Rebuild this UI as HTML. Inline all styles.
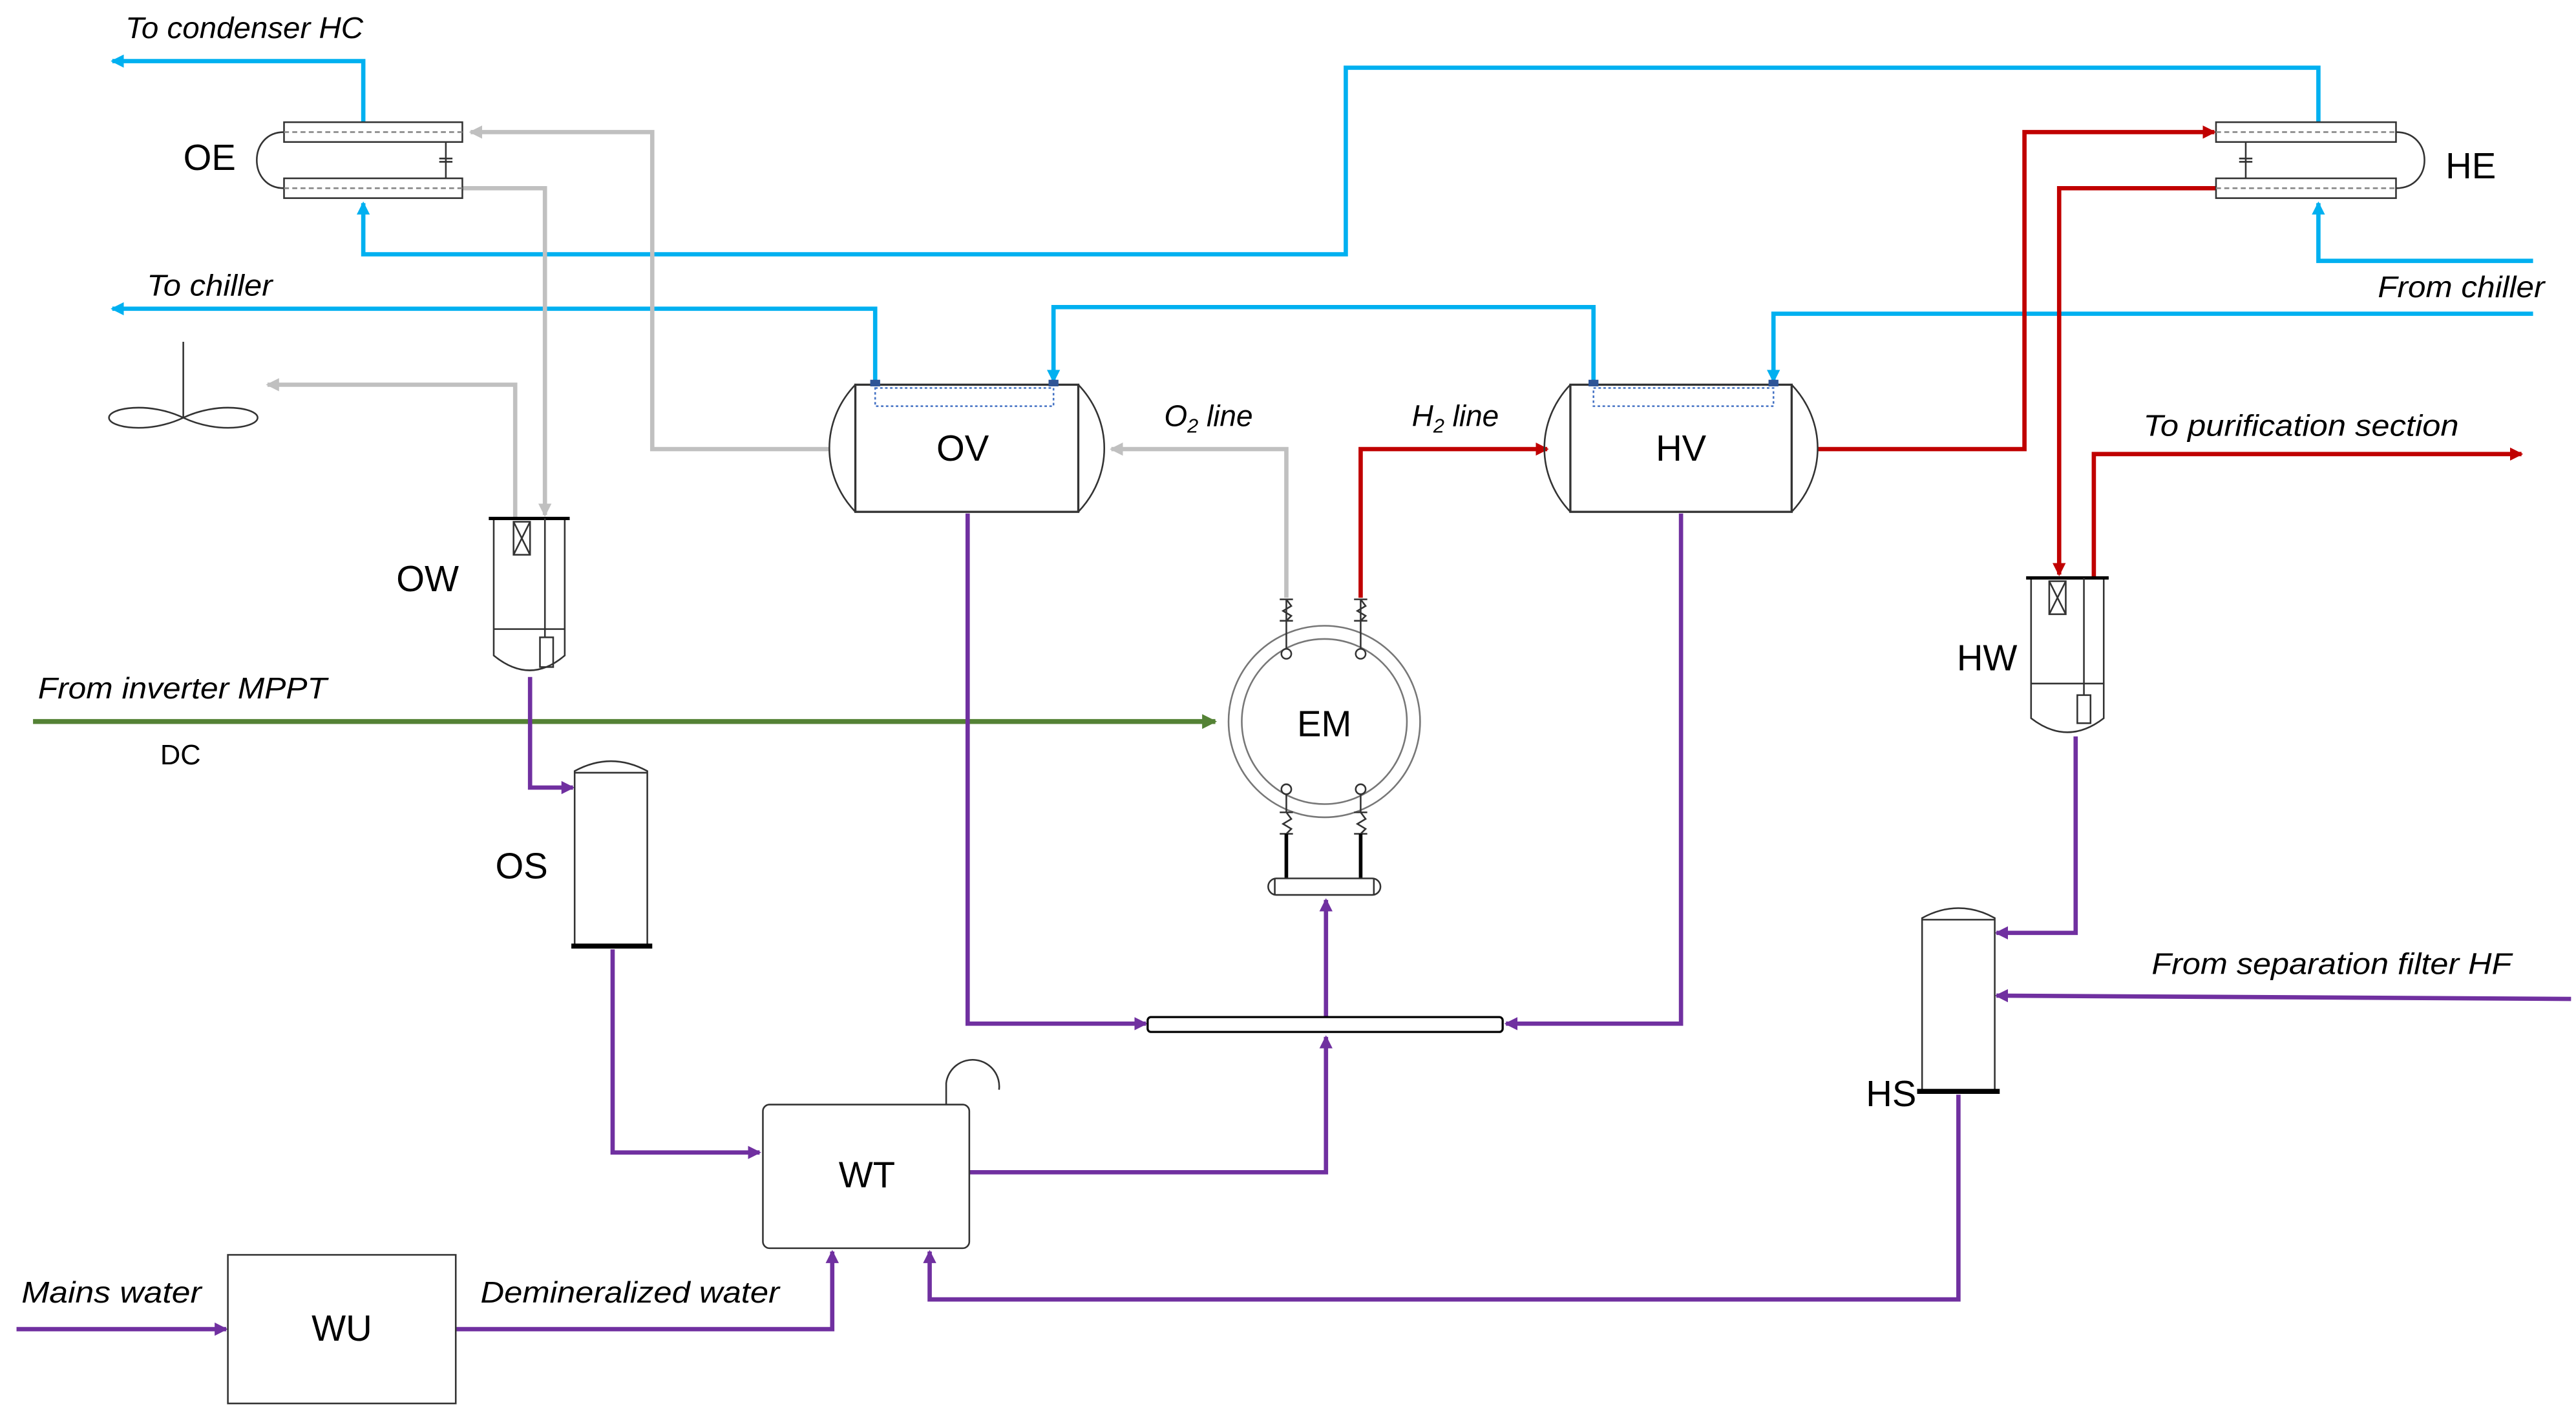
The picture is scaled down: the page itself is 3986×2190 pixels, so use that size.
<!DOCTYPE html>
<html><head><meta charset="utf-8">
<style>
html,body{margin:0;padding:0;background:#fff;}
svg{display:block;}
text{font-family:"Liberation Sans",sans-serif;fill:#000;}
.it{font-style:italic;font-size:18px;}
.lb{font-size:22px;}
</style></head><body>
<svg width="3986" height="2190" viewBox="0 0 1560 857" preserveAspectRatio="none" xmlns="http://www.w3.org/2000/svg">
<defs>
<marker id="aB" markerWidth="8" markerHeight="8" refX="7" refY="4" orient="auto" markerUnits="userSpaceOnUse"><path d="M0,0 L8,4 L0,8 z" fill="#00b0f0"/></marker>
<marker id="aR" markerWidth="8" markerHeight="8" refX="7" refY="4" orient="auto" markerUnits="userSpaceOnUse"><path d="M0,0 L8,4 L0,8 z" fill="#c00000"/></marker>
<marker id="aG" markerWidth="8" markerHeight="8" refX="7" refY="4" orient="auto" markerUnits="userSpaceOnUse"><path d="M0,0 L8,4 L0,8 z" fill="#c0c0c0"/></marker>
<marker id="aP" markerWidth="8" markerHeight="8" refX="7" refY="4" orient="auto" markerUnits="userSpaceOnUse"><path d="M0,0 L8,4 L0,8 z" fill="#7030a0"/></marker>
<marker id="aN" markerWidth="9" markerHeight="9" refX="8" refY="4.5" orient="auto" markerUnits="userSpaceOnUse"><path d="M0,0 L9,4.5 L0,9 z" fill="#548235"/></marker>
</defs>

<g fill="none" stroke-width="2.6">
<polyline stroke="#00b0f0" points="220,74 220,37 68,37" marker-end="url(#aB)"/>
<polyline stroke="#00b0f0" points="1404,74 1404,41 815,41 815,154 220,154 220,123" marker-end="url(#aB)"/>
<polyline stroke="#00b0f0" points="1534,158 1404,158 1404,123" marker-end="url(#aB)"/>
<polyline stroke="#00b0f0" points="1534,190 1074,190 1074,231" marker-end="url(#aB)"/>
<polyline stroke="#00b0f0" points="965,232 965,186 638,186 638,231" marker-end="url(#aB)"/>
<polyline stroke="#00b0f0" points="530,232 530,187 68,187" marker-end="url(#aB)"/>
<polyline stroke="#c0c0c0" points="502,272 395,272 395,80 285,80" marker-end="url(#aG)"/>
<polyline stroke="#c0c0c0" points="280,114 330,114 330,312" marker-end="url(#aG)"/>
<polyline stroke="#c0c0c0" points="312,314 312,233 162,233" marker-end="url(#aG)"/>
<polyline stroke="#c0c0c0" points="779,362 779,272 673,272" marker-end="url(#aG)"/>
<polyline stroke="#c00000" points="824,362 824,272 937,272" marker-end="url(#aR)"/>
<polyline stroke="#c00000" points="1101,272 1226,272 1226,80 1341,80" marker-end="url(#aR)"/>
<polyline stroke="#c00000" points="1342,114 1247,114 1247,348" marker-end="url(#aR)"/>
<polyline stroke="#c00000" points="1268,350 1268,275 1527,275" marker-end="url(#aR)"/>
<polyline stroke="#548235" stroke-width="3" points="20,437 736,437" marker-end="url(#aN)"/>
<polyline stroke="#7030a0" points="321,410 321,477 347,477" marker-end="url(#aP)"/>
<polyline stroke="#7030a0" points="371,575 371,698 460,698" marker-end="url(#aP)"/>
<polyline stroke="#7030a0" points="587,710 803,710 803,628" marker-end="url(#aP)"/>
<polyline stroke="#7030a0" points="586,311 586,620 694,620" marker-end="url(#aP)"/>
<polyline stroke="#7030a0" points="1018,311 1018,620 912,620" marker-end="url(#aP)"/>
<polyline stroke="#7030a0" points="803,617 803,545" marker-end="url(#aP)"/>
<polyline stroke="#7030a0" points="1257,446 1257,565 1209,565" marker-end="url(#aP)"/>
<polyline stroke="#7030a0" points="1557,605 1209,603" marker-end="url(#aP)"/>
<polyline stroke="#7030a0" points="1186,663 1186,787 563,787 563,758" marker-end="url(#aP)"/>
<polyline stroke="#7030a0" points="10,805 137,805" marker-end="url(#aP)"/>
<polyline stroke="#7030a0" points="276,805 504,805 504,758" marker-end="url(#aP)"/>
</g>

<g fill="none" stroke="#333" stroke-width="1">
<rect x="172" y="74" width="108" height="12" fill="#fff"/>
<rect x="172" y="108" width="108" height="12" fill="#fff"/>
<line x1="172" y1="80" x2="280" y2="80" stroke="#888" stroke-dasharray="3,2"/>
<line x1="172" y1="114" x2="280" y2="114" stroke="#888" stroke-dasharray="3,2"/>
<path d="M172,80 C150,80 150,114 172,114"/>
<line x1="270" y1="86" x2="270" y2="108"/><line x1="266" y1="96" x2="274" y2="96"/><line x1="266" y1="98" x2="274" y2="98"/>
<rect x="1342" y="74" width="109" height="12" fill="#fff"/>
<rect x="1342" y="108" width="109" height="12" fill="#fff"/>
<line x1="1342" y1="80" x2="1451" y2="80" stroke="#888" stroke-dasharray="3,2"/>
<line x1="1342" y1="114" x2="1451" y2="114" stroke="#888" stroke-dasharray="3,2"/>
<path d="M1451,80 C1474,80 1474,114 1451,114"/>
<line x1="1360" y1="86" x2="1360" y2="108"/><line x1="1356" y1="96" x2="1364" y2="96"/><line x1="1356" y1="98" x2="1364" y2="98"/>
<line x1="111" y1="207" x2="111" y2="253"/>
<path d="M111,253 C90,243 66,247 66,253 C66,259 90,263 111,253 C132,243 156,247 156,253 C156,259 132,263 111,253 Z"/>
<rect x="518" y="233" width="135" height="77" fill="#fff" stroke-width="1.3"/>
<path d="M518,233 C497,255 497,288 518,310"/><path d="M653,233 C674,255 674,288 653,310"/>
<rect x="530" y="235" width="108" height="11" stroke="#4472c4" stroke-dasharray="1.5,1.5"/>
<rect x="527" y="230" width="6" height="4" fill="#2f5597" stroke="none"/><rect x="635" y="230" width="6" height="4" fill="#2f5597" stroke="none"/>
<rect x="951" y="233" width="134" height="77" fill="#fff" stroke-width="1.3"/>
<path d="M951,233 C930,255 930,288 951,310"/><path d="M1085,233 C1106,255 1106,288 1085,310"/>
<rect x="965" y="235" width="109" height="11" stroke="#4472c4" stroke-dasharray="1.5,1.5"/>
<rect x="962" y="230" width="6" height="4" fill="#2f5597" stroke="none"/><rect x="1071" y="230" width="6" height="4" fill="#2f5597" stroke="none"/>
<path d="M299,314 L299,397 Q321,415 342,397 L342,314" fill="#fff"/>
<line x1="296" y1="314" x2="345" y2="314" stroke="#000" stroke-width="2"/>
<rect x="311" y="316" width="10" height="20"/><path d="M311,316 L321,336 M321,316 L311,336"/>
<line x1="330" y1="314" x2="330" y2="386"/><line x1="299" y1="381" x2="342" y2="381"/>
<rect x="327" y="386" width="8" height="18"/>
<path d="M1230,350 L1230,435 Q1252,452 1274,435 L1274,350" fill="#fff"/>
<line x1="1227" y1="350" x2="1277" y2="350" stroke="#000" stroke-width="2"/>
<rect x="1241" y="352" width="10" height="20"/><path d="M1241,352 L1251,372 M1251,352 L1241,372"/>
<line x1="1262" y1="350" x2="1262" y2="421"/><line x1="1230" y1="414" x2="1274" y2="414"/>
<rect x="1258" y="421" width="8" height="17"/>
<path d="M348,573 L348,467 Q370,455 392,467 L392,573" fill="#fff"/><line x1="348" y1="468" x2="392" y2="468"/>
<line x1="346" y1="573" x2="395" y2="573" stroke="#000" stroke-width="3"/>
<path d="M1164,661 L1164,556 Q1186,544 1208,556 L1208,661" fill="#fff"/><line x1="1164" y1="557" x2="1208" y2="557"/>
<line x1="1161" y1="661" x2="1211" y2="661" stroke="#000" stroke-width="3"/>
<circle cx="802" cy="437" r="58" stroke="#777"/><circle cx="802" cy="437" r="50" stroke="#777"/>
<circle cx="779" cy="396" r="3"/><circle cx="824" cy="396" r="3"/><circle cx="779" cy="478" r="3"/><circle cx="824" cy="478" r="3"/>
<path d="M779,393 L779,363 M775,363 L783,363 M775,376 L783,376 M779,363 L782,367 L777,370 L782,373 L779,376"/>
<path d="M824,393 L824,363 M820,363 L828,363 M820,376 L828,376 M824,363 L827,367 L822,370 L827,373 L824,376"/>
<path d="M779,481 L779,492 M775,492 L783,492 M775,505 L783,505 M779,492 L782,496 L777,499 L782,502 L779,505"/>
<path d="M824,481 L824,492 M820,492 L828,492 M820,505 L828,505 M824,492 L827,496 L822,499 L827,502 L824,505"/>
<line x1="779" y1="505" x2="779" y2="532" stroke="#000" stroke-width="2.2"/><line x1="824" y1="505" x2="824" y2="532" stroke="#000" stroke-width="2.2"/>
<rect x="768" y="532" width="68" height="10" rx="5" fill="#fff"/><line x1="772" y1="532" x2="772" y2="542"/><line x1="832" y1="532" x2="832" y2="542"/>
<rect x="695" y="616" width="215" height="9" rx="2" fill="#fff" stroke="#000" stroke-width="1.3"/>
<rect x="462" y="669" width="125" height="87" rx="4" fill="#fff"/>
<path d="M573,669 L573,656 A16,16 0 0 1 605,660"/>
<rect x="138" y="760" width="138" height="90" fill="#fff"/>
</g>

<text class="it" x="76" y="23" textLength="144" lengthAdjust="spacingAndGlyphs">To condenser HC</text>
<text class="it" x="89" y="179" textLength="76" lengthAdjust="spacingAndGlyphs">To chiller</text>
<text class="it" x="1440" y="180" textLength="101" lengthAdjust="spacingAndGlyphs">From chiller</text>
<text class="it" x="1298" y="264" textLength="191" lengthAdjust="spacingAndGlyphs">To purification section</text>
<text class="it" x="705" y="258">O<tspan font-size="12" dy="4">2</tspan><tspan dy="-4"> line</tspan></text>
<text class="it" x="855" y="258">H<tspan font-size="12" dy="4">2</tspan><tspan dy="-4"> line</tspan></text>
<text class="it" x="23" y="423" textLength="175" lengthAdjust="spacingAndGlyphs">From inverter MPPT</text>
<text x="97" y="463" font-size="17">DC</text>
<text class="it" x="1303" y="590" textLength="218" lengthAdjust="spacingAndGlyphs">From separation filter HF</text>
<text class="it" x="13" y="789" textLength="109" lengthAdjust="spacingAndGlyphs">Mains water</text>
<text class="it" x="291" y="789" textLength="181" lengthAdjust="spacingAndGlyphs">Demineralized water</text>
<text class="lb" x="111" y="103">OE</text>
<text class="lb" x="1481" y="108">HE</text>
<text class="lb" x="583" y="279" text-anchor="middle">OV</text>
<text class="lb" x="1018" y="279" text-anchor="middle">HV</text>
<text class="lb" x="240" y="358">OW</text>
<text class="lb" x="1185" y="406">HW</text>
<text class="lb" x="802" y="446" text-anchor="middle" font-size="24">EM</text>
<text class="lb" x="300" y="532">OS</text>
<text class="lb" x="1130" y="670">HS</text>
<text class="lb" x="525" y="719" text-anchor="middle">WT</text>
<text class="lb" x="207" y="812" text-anchor="middle">WU</text>
</svg>
</body></html>
